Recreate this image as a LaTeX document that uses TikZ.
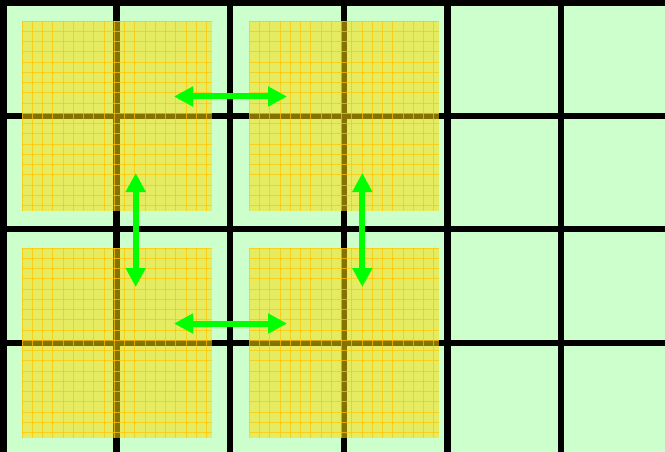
\documentclass[tikz,border=0pt]{standalone}
\usetikzlibrary{arrows.meta}
\definecolor{bg}{HTML}{CCFFCC}
\definecolor{ylw}{HTML}{FFDC00}
\definecolor{gridor}{HTML}{FFC400}
\definecolor{arr}{HTML}{00FF00}
\tikzset{
  gridline/.style={line width=6.7pt, black},
  tile/.style={rectangle, fill=ylw, fill opacity=0.52, draw=none, minimum width=189.5pt, minimum height=189.5pt, inner sep=0pt, outer sep=0pt},
  fine/.style={gridor, line width=1pt, opacity=0.7},
  dbl/.style={arr, line width=6pt, {Triangle[length=19pt,width=19pt]}-{Triangle[length=19pt,width=19pt]}}
}
\begin{document}
\begin{tikzpicture}[x=1pt,y=-1pt]
\useasboundingbox (0,0) rectangle (665,452);
\fill[bg] (0,0) rectangle (665,452);
% black grid
\foreach \x in {3.5,116.5,230,344,447.7,561}
  \draw[gridline] (\x,0) -- (\x,452);
\foreach \y in {3,116,229,343}
  \draw[gridline] (0,\y) -- (665,\y);
% yellow tiles with fine grid
\foreach \n/\cx/\cy in {A/116.8/115.8, B/344/115.8, C/116.8/342.8, D/344/342.8}{
  \node[tile] (\n) at (\cx,\cy) {};
  \begin{scope}
    \clip (\n.north west) rectangle (\n.south east);
    \foreach \k in {0,...,18}{
      \draw[fine] ([xshift=\k*10.25pt]\n.north west) -- ([xshift=\k*10.25pt]\n.south west);
      \draw[fine] ([yshift=-\k*10.25pt]\n.north west) -- ([yshift=-\k*10.25pt]\n.north east);
    }
  \end{scope}
}
% arrows
\coordinate (t1) at (174,96.5);
\coordinate (t2) at (287,96.5);
\coordinate (b1) at (174,323.5);
\coordinate (b2) at (287,323.5);
\coordinate (l1) at (135.7,173);
\coordinate (l2) at (135.7,287);
\coordinate (r1) at (362.3,173);
\coordinate (r2) at (362.3,287);
\draw[dbl] (t1) -- (t2);
\draw[dbl] (b1) -- (b2);
\draw[dbl] (l1) -- (l2);
\draw[dbl] (r1) -- (r2);
\end{tikzpicture}
\end{document}
